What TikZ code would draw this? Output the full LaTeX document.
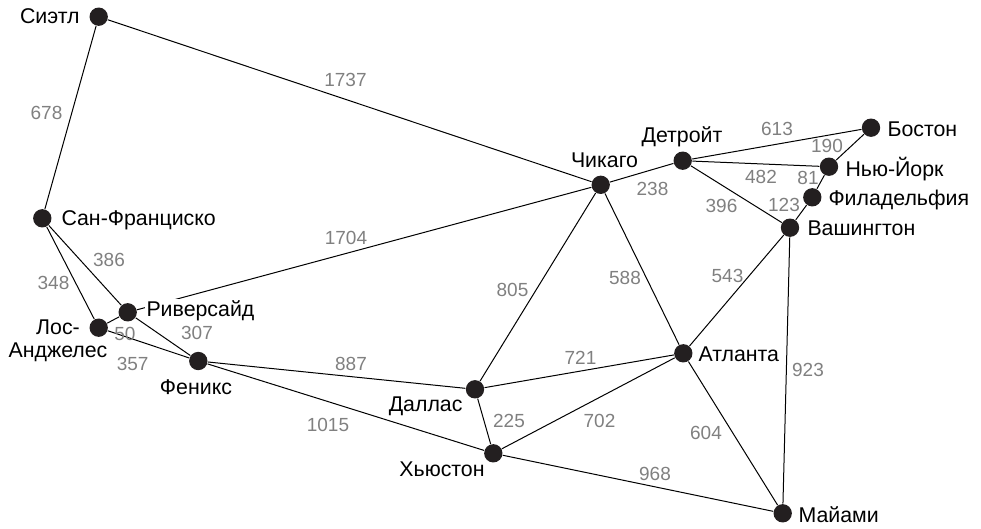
\documentclass[tikz,border=0pt]{standalone}
\usepackage{fontspec}
\setmainfont{Liberation Sans}
\definecolor{dotfill}{RGB}{35,31,32}
\definecolor{distgray}{RGB}{128,128,128}
\tikzset{every picture/.style={line width=0.75pt}}
\tikzset{
  city/.style={circle,fill=dotfill,inner sep=0pt,minimum size=13.75pt},
  cityname/.style={inner sep=0pt,font=\fontsize{16}{17.25}\selectfont},
  dist/.style={inner sep=0pt,text=distgray,font=\fontsize{14.25}{17}\selectfont,anchor=base}
}

\begin{document}
\begin{tikzpicture}[x=0.75pt,y=0.75pt,yscale=-1,xscale=1]
\useasboundingbox (0,0) rectangle (981,528);

%Shape: Circle
\node [city] (sea) at (98.7,16.7) {};
\node [city] (sf) at (42.3,218.3) {};
\node [city] (la) at (98.7,327.7) {};
\node [city] (riv) at (127.7,312.3) {};
\node [city] (phx) at (198.3,361) {};
\node [city] (chi) at (600.7,184.8) {};
\node [city] (det) at (682.7,160.7) {};
\node [city] (bos) at (871,127.7) {};
\node [city] (ny) at (829,166.7) {};
\node [city] (phl) at (812.3,197.3) {};
\node [city] (was) at (790,227.7) {};
\node [city] (dal) at (475,389.3) {};
\node [city] (atl) at (683.3,353.3) {};
\node [city] (hou) at (493.3,453.3) {};
\node [city] (mia) at (782.7,513.3) {};

%Straight Lines
\draw (sea) -- (sf);
\draw (sea) -- (chi);
\draw (sf) -- (la);
\draw (sf) -- (riv);
\draw (la) -- (riv);
\draw (riv) -- (phx);
\draw (la) -- (phx);
\draw (riv) -- (chi);
\draw (phx) -- (dal);
\draw (phx) -- (hou);
\draw (chi) -- (dal);
\draw (chi) -- (atl);
\draw (chi) -- (det);
\draw (det) -- (bos);
\draw (det) -- (ny);
\draw (det) -- (was);
\draw (bos) -- (ny);
\draw (ny) -- (phl);
\draw (phl) -- (was);
\draw (was) -- (atl);
\draw (was) -- (mia);
\draw (dal) -- (atl);
\draw (dal) -- (hou);
\draw (hou) -- (atl);
\draw (atl) -- (mia);
\draw (hou) -- (mia);

% Text Node
\node [cityname,anchor=base east] (seaname) at (80,24) {Сиэтл};
\node [cityname,anchor=base west] (sfname) at (61,225) {Сан-Франциско};
\node [cityname,anchor=base,align=center] (laname) at (58,357) {Лос-\\Анджелес};
\node [cityname,anchor=base west,fill=white,inner sep=1.5pt] (rivname) at (144,316.7) {Риверсайд};
\node [cityname,anchor=base] (phxname) at (196,394) {Феникс};
\node [cityname,anchor=base] (chiname) at (604.5,167.3) {Чикаго};
\node [cityname,anchor=base] (detname) at (682,142) {Детройт};
\node [cityname,anchor=base west] (bosname) at (887,136.7) {Бостон};
\node [cityname,anchor=base west] (nyname) at (845,176) {Нью-Йорк};
\node [cityname,anchor=base west] (phlname) at (828,205.5) {Филадельфия};
\node [cityname,anchor=base west] (wasname) at (807,235.7) {Вашингтон};
\node [cityname,anchor=base west] (atlname) at (698,361.5) {Атланта};
\node [cityname,anchor=base east] (dalname) at (463,411.5) {Даллас};
\node [cityname,anchor=base] (houname) at (442,476) {Хьюстон};
\node [cityname,anchor=base west] (mianame) at (798,522.5) {Майами};

% Text Node
\node [dist] (d678) at (46.5,119.3) {678};
\node [dist] (d1737) at (345.5,86) {1737};
\node [dist] (d386) at (109,266.6) {386};
\node [dist] (d348) at (53.5,289.3) {348};
\node [dist] (d50) at (125,340) {50};
\node [dist] (d307) at (197,339.3) {307};
\node [dist] (d357) at (132.7,370) {357};
\node [dist] (d1704) at (346,244.3) {1704};
\node [dist] (d887) at (351,370.7) {887};
\node [dist] (d1015) at (328,431.7) {1015};
\node [dist] (d805) at (512.5,296.7) {805};
\node [dist] (d588) at (625,284) {588};
\node [dist] (d238) at (652.5,195) {238};
\node [dist] (d613) at (777,135) {613};
\node [dist] (d190) at (827,152.7) {190};
\node [dist] (d482) at (761,183.3) {482};
\node [dist] (d81) at (808,184) {81};
\node [dist] (d396) at (721.5,212.7) {396};
\node [dist] (d123) at (784,211.7) {123};
\node [dist] (d543) at (727.5,282.7) {543};
\node [dist] (d721) at (580.5,364) {721};
\node [dist] (d225) at (509,427.3) {225};
\node [dist] (d702) at (599.5,427.3) {702};
\node [dist] (d604) at (706,439.3) {604};
\node [dist] (d968) at (655,480) {968};
\node [dist] (d923) at (808,376.7) {923};

\end{tikzpicture}
\end{document}
